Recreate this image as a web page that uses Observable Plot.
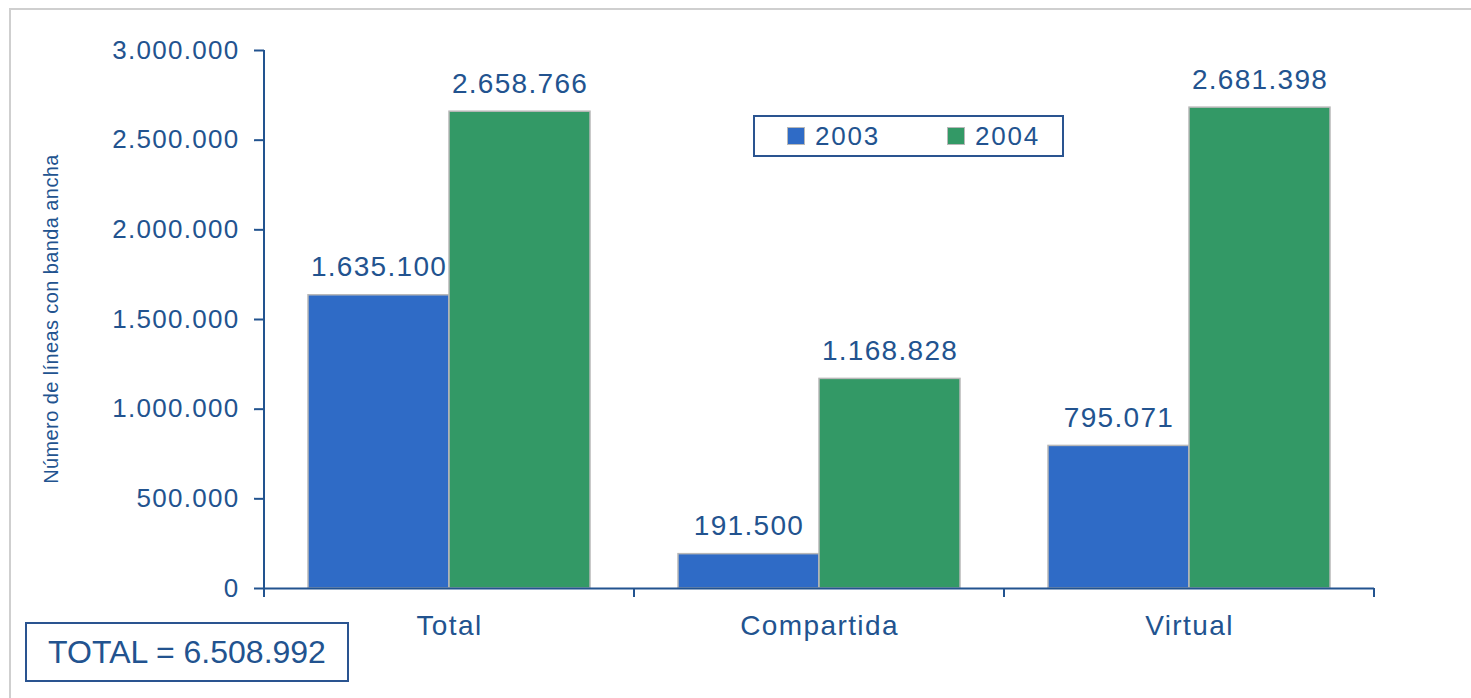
<!DOCTYPE html>
<html>
<head>
<meta charset="utf-8">
<script src="https://cdn.jsdelivr.net/npm/d3@7"></script>
<script src="https://cdn.jsdelivr.net/npm/@observablehq/plot@0.6"></script>
<style>
  html, body { margin: 0; padding: 0; background: #fff; }
  body { width: 1471px; height: 698px; position: relative; overflow: hidden; font-family: "Liberation Sans", Arial, sans-serif; color: #22538f; }
  #chart { position: absolute; left: 0; top: 0; }
  #frame { position: absolute; left: 9px; top: 8px; width: 1500px; height: 800px; border: 2px solid #cfcfcf; box-sizing: border-box; pointer-events: none; z-index: 5; }
  #ytitle { position: absolute; left: 51px; top: 319px; transform: translate(-50%, -50%) rotate(-90deg); font-size: 20px; letter-spacing: 0.4px; white-space: nowrap; }
  #legend { position: absolute; left: 753px; top: 115px; width: 311px; height: 42px; border: 2px solid #2a5490; box-sizing: border-box; background: #fff; }
  .item { position: absolute; top: 0; height: 38px; display: flex; align-items: center; font-size: 26px; letter-spacing: 1.8px; }
  .sw { width: 16px; height: 16px; border: 1.5px solid #b8b8b8; margin-right: 10px; }
  #total { position: absolute; left: 25px; top: 622px; width: 324px; height: 60px; border: 2px solid #2a5490; box-sizing: border-box; font-size: 32px; display: flex; align-items: center; justify-content: center; background: #fff; }
  svg g[aria-label="y-axis tick label"] text { letter-spacing: 1.3px; }
  svg g[aria-label="fx-axis tick label"] text { letter-spacing: 1.4px; }
  svg g[aria-label="text"] text { letter-spacing: 1.3px; }
</style>
</head>
<body>
<div id="chart"></div>
<div id="ytitle"></div>
<div id="legend"></div>
<div id="total"></div>
<div id="frame"></div>
<script>
const categories = ["Total", "Compartida", "Virtual"];
const years = ["2003", "2004"];
const values2003 = [1635100, 191500, 795071];
const values2004 = [2658766, 1168828, 2681398];
const yTicks = [0, 500000, 1000000, 1500000, 2000000, 2500000, 3000000];
const yTitle = "Número de líneas con banda ancha";
const totalText = "TOTAL = 6.508.992";
const barColors = ["#2f6bc6", "#339966"];
const textColor = "#22538f";

const es = d3.formatLocale({decimal: ",", thousands: ".", grouping: [3], currency: ["", "€"]});
const fmt = es.format(",d");

const data = [];
categories.forEach((c, i) => {
  data.push({cat: c, year: years[0], value: values2003[i]});
  data.push({cat: c, year: years[1], value: values2004[i]});
});

const chart = Plot.plot({
  width: 1471,
  height: 698,
  marginLeft: 263,
  marginRight: 96,
  marginTop: 50,
  marginBottom: 110,
  style: {color: textColor, fontFamily: "'Liberation Sans', Arial, sans-serif", background: "transparent"},
  fx: {domain: categories, padding: 0, label: null},
  x: {domain: years, paddingInner: 0, paddingOuter: 0.305, axis: null},
  y: {domain: [0, 3000000], axis: null},
  color: {domain: years, range: barColors},
  marks: [
    Plot.barY(data, {fx: "cat", x: "year", y: "value", fill: "year", stroke: "#b8b8b8", strokeWidth: 1.5}),
    Plot.ruleY([0], {stroke: textColor, strokeWidth: 2}),
    Plot.text(data, {fx: "cat", x: "year", y: "value", text: d => fmt(d.value), dy: -28, fill: textColor, fontSize: 28}),
    Plot.axisY({ticks: yTicks, tickSize: 10, tickPadding: 15, tickFormat: fmt, fontSize: 26, strokeWidth: 2, label: null}),
    Plot.axisFx({anchor: "bottom", tickSize: 0, tickPadding: 27, fontSize: 28, label: null})
  ]
});
document.getElementById("chart").appendChild(chart);

// axis line and group boundary ticks from the library's scales
const fxs = chart.scale("fx");
const ys = chart.scale("y");
const svg = d3.select(chart);
const g = svg.append("g").attr("stroke", textColor).attr("stroke-width", 2);
const x0 = fxs.apply(categories[0]);
const y0 = ys.apply(0);
g.append("line").attr("x1", x0).attr("x2", x0).attr("y1", ys.apply(yTicks[yTicks.length - 1])).attr("y2", y0 + 9);
const bounds = categories.map(c => fxs.apply(c)).concat([fxs.apply(categories[categories.length - 1]) + fxs.bandwidth]);
bounds.forEach(b => g.append("line").attr("x1", b).attr("x2", b).attr("y1", y0).attr("y2", y0 + 9));

document.getElementById("ytitle").textContent = yTitle;
document.getElementById("total").textContent = totalText;
const legend = document.getElementById("legend");
const legendLeft = [32, 192];
years.forEach((yr, i) => {
  const it = document.createElement("div");
  it.className = "item";
  it.style.left = legendLeft[i] + "px";
  const sw = document.createElement("span");
  sw.className = "sw";
  sw.style.background = barColors[i];
  it.appendChild(sw);
  it.appendChild(document.createTextNode(yr));
  legend.appendChild(it);
});
</script>
</body>
</html>
